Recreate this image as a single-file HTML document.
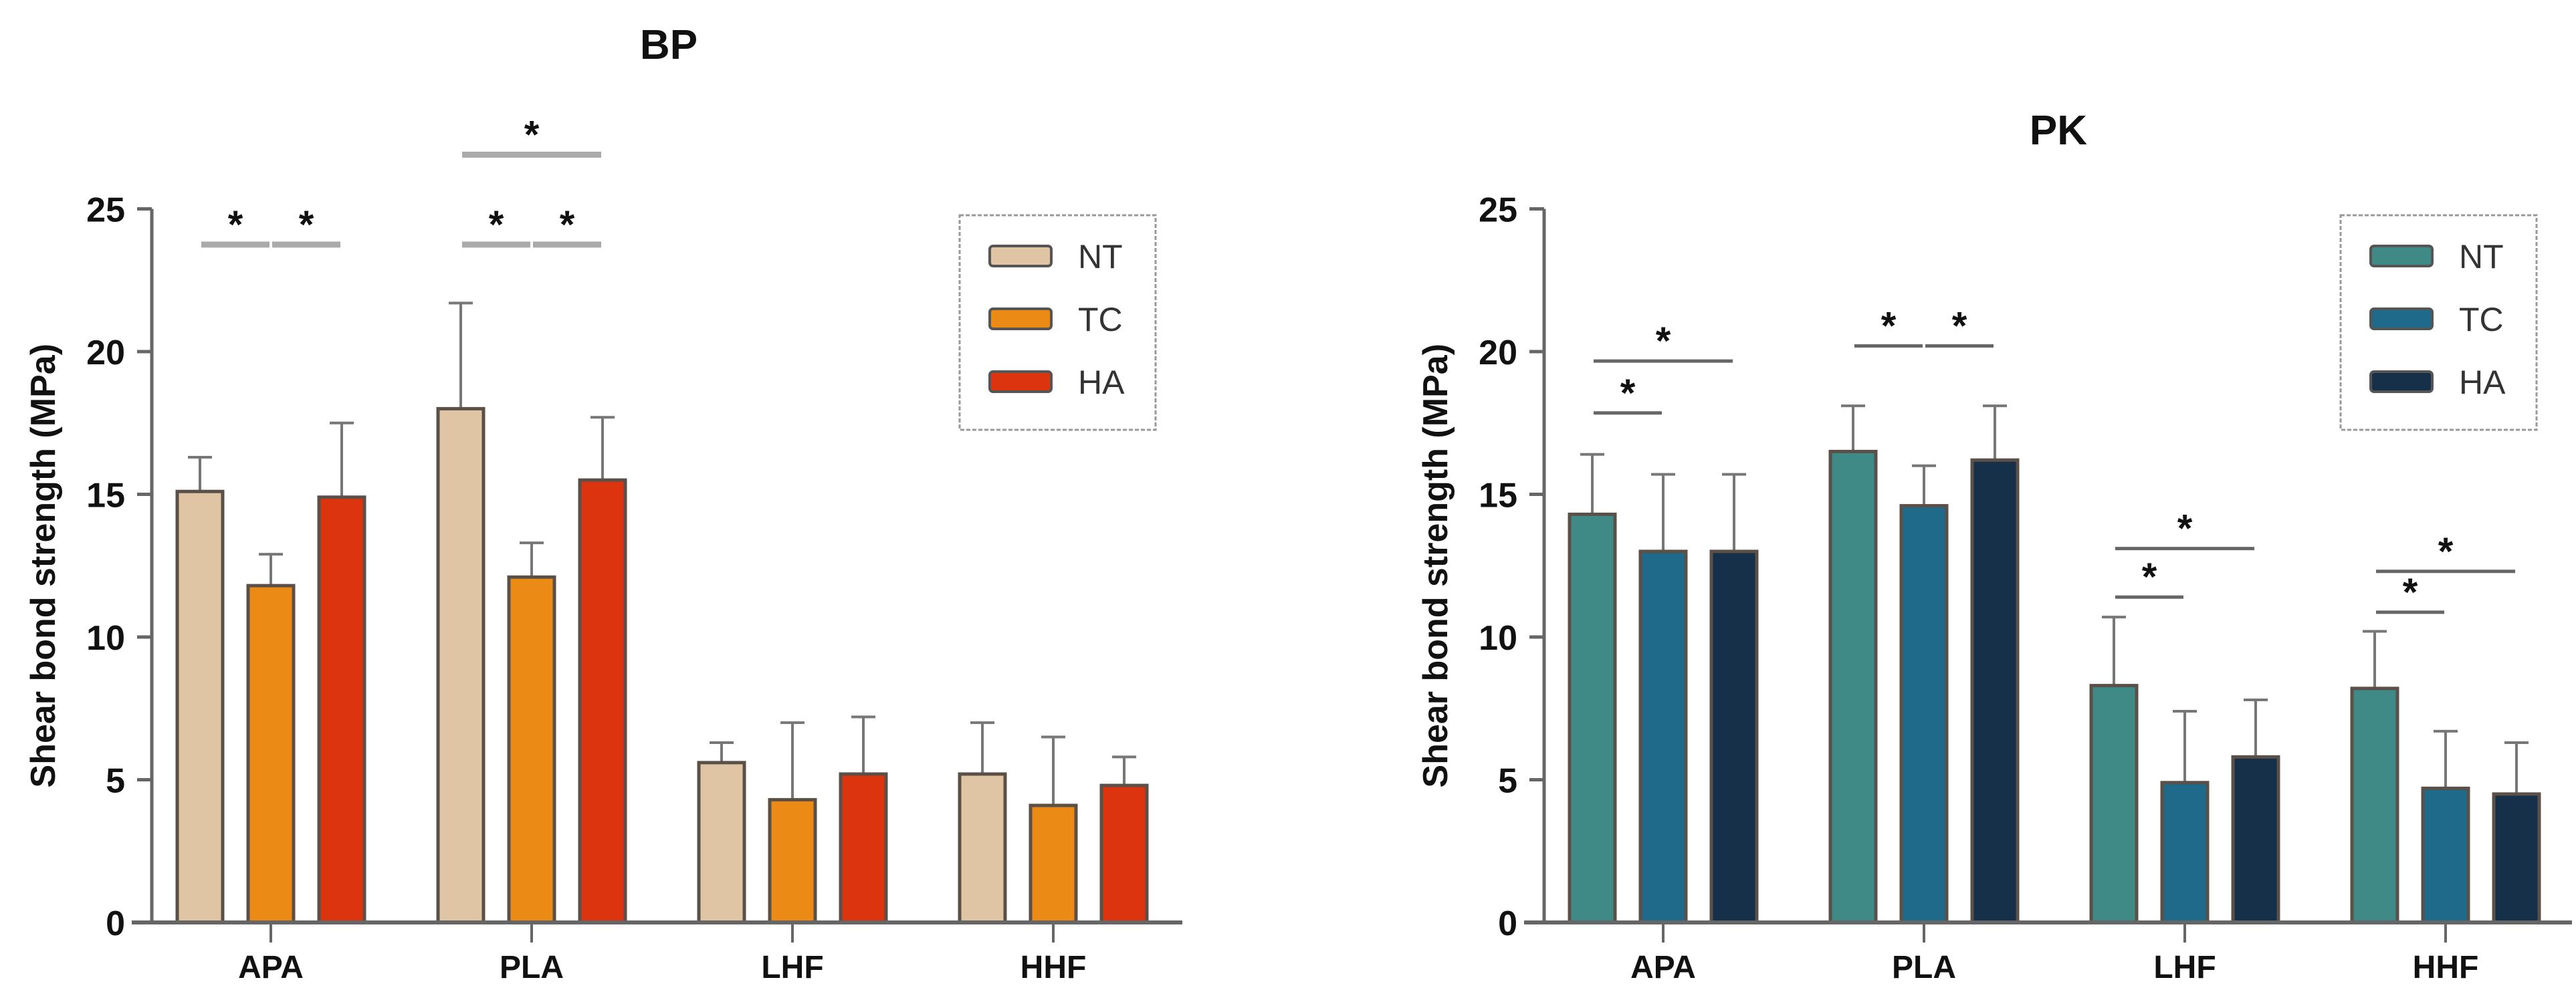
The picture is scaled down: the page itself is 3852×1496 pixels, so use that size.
<!DOCTYPE html>
<html><head><meta charset="utf-8">
<style>
html,body{margin:0;padding:0;background:#fff;}
svg{display:block;font-family:"Liberation Sans",Arial,sans-serif;}
</style></head>
<body>
<svg id="fig" width="3852" height="1496" viewBox="0 0 3852 1496" xmlns="http://www.w3.org/2000/svg">
<rect x="0" y="0" width="3852" height="1496" fill="#ffffff"/>
</svg>
<script>
// ---- data ----
const categories = ["APA","PLA","LHF","HHF"];
const seriesNames = ["NT","TC","HA"];
const yTicks = [0,5,10,15,20,25];
// BP
const bpNT = [15.1,18.0,5.6,5.2];
const bpTC = [11.8,12.1,4.3,4.1];
const bpHA = [14.9,15.5,5.2,4.8];
const bpErrNT = [1.2,3.7,0.7,1.8];
const bpErrTC = [1.1,1.2,2.7,2.4];
const bpErrHA = [2.6,2.2,2.0,1.0];
// PK
const pkNT = [14.3,16.5,8.3,8.2];
const pkTC = [13.0,14.6,4.9,4.7];
const pkHA = [13.0,16.2,5.8,4.5];
const pkErrNT = [2.1,1.6,2.4,2.0];
const pkErrTC = [2.7,1.4,2.5,2.0];
const pkErrHA = [2.7,1.9,2.0,1.8];
// significance brackets: [group, fromSeries, toSeries, yValue]
const bpSig = [[0,0,1,23.75],[0,1,2,23.75],[1,0,1,23.75],[1,1,2,23.75],[1,0,2,26.9]];
const pkSig = [[0,0,1,17.85],[0,0,2,19.67],[1,0,1,20.2],[1,1,2,20.2],[2,0,1,11.4],[2,0,2,13.1],[3,0,1,10.87],[3,0,2,12.3]];

const NS="http://www.w3.org/2000/svg";
const svg=document.getElementById('fig');
function mk(tag,attrs,parent){const e=document.createElementNS(NS,tag);for(const k in attrs)e.setAttribute(k,attrs[k]);(parent||svg).appendChild(e);return e;}

function drawChart(cfg){
  const g=mk('g',{});
  
  
  const y0=1380, unit=42.7;
  const Y=v=>y0-v*unit;
  const X=(gi,si)=>cfg.axisX+178+390*gi+(si-1)*106;
  const bw=68;
  const t=mk('text',{x:cfg.titleX,y:cfg.titleY,'font-size':62,'font-weight':'bold','text-anchor':'middle',fill:'#111'},g);
  t.textContent=cfg.name;
  
  
  const yt=mk('text',{x:0,y:0,'font-size':52,'font-weight':'bold','text-anchor':'middle',fill:'#111',transform:`translate(${cfg.axisX-145},${Y(12.5)}) rotate(-90)`},g);
  yt.textContent='Shear bond strength (MPa)';
  
  
  const vals=[cfg.nt,cfg.tc,cfg.ha], errs=[cfg.ent,cfg.etc,cfg.eha];
  for(let gi=0;gi<categories.length;gi++){
    for(let si=0;si<3;si++){
      const cx=X(gi,si), v=vals[si][gi], e=errs[si][gi];
      const el=mk('line',{x1:cx,x2:cx,y1:Y(v),y2:Y(v+e),stroke:'#777','stroke-width':4},g);
      
      
      const cap=mk('line',{x1:cx-18,x2:cx+18,y1:Y(v+e),y2:Y(v+e),stroke:'#777','stroke-width':4},g);
      
      
      const r=mk('rect',{x:cx-bw/2,y:Y(v),width:bw,height:v*unit,fill:cfg.colors[si],stroke:'#5a5048','stroke-width':5},g);
      
      
    }
  }
  const ya=mk('line',{x1:cfg.axisX,x2:cfg.axisX,y1:Y(25),y2:y0,stroke:'#666','stroke-width':5},g);
  
  
  const xa=mk('line',{x1:cfg.axisX-30,x2:cfg.axisEnd,y1:y0,y2:y0,stroke:'#666','stroke-width':6},g);
  
  
  yTicks.forEach(v=>{
    const tk=mk('line',{x1:cfg.axisX-22,x2:cfg.axisX,y1:Y(v),y2:Y(v),stroke:'#666','stroke-width':5},g);
    
    
    const tl=mk('text',{x:cfg.axisX-40,y:Y(v)+19,'font-size':52,'font-weight':'bold','text-anchor':'end',fill:'#111'},g);
    tl.textContent=String(v);
    
    
  });
  categories.forEach((c,gi)=>{
    const cx=X(gi,1);
    const tk=mk('line',{x1:cx,x2:cx,y1:y0,y2:y0+30,stroke:'#666','stroke-width':4},g);
    
    
    const tl=mk('text',{x:cx,y:1463,'font-size':48,'font-weight':'bold','text-anchor':'middle',fill:'#111'},g);
    tl.textContent=c;
    
    
  });
  cfg.sig.forEach(s=>{
    const xa1=X(s[0],s[1])+2, xa2=X(s[0],s[2])-2, yy=Y(s[3]);
    const l=mk('line',{x1:xa1,x2:xa2,y1:yy,y2:yy,stroke:cfg.sigColor,'stroke-width':cfg.sigW},g);
    
    
    const st=mk('text',{x:(xa1+xa2)/2,y:yy-10,'font-size':58,'font-weight':'bold','text-anchor':'middle',fill:'#111'},g);
    st.textContent='*';
    
    
  });
  const lx=cfg.legendX;
  const lb=mk('rect',{x:lx,y:322,width:293,height:321,fill:'none',stroke:'#999','stroke-width':3,'stroke-dasharray':'6 3'},g);
  
  
  seriesNames.forEach((n,si)=>{
    const cy=383+si*94;
    const sw=mk('rect',{x:lx+45,y:cy-15,width:92,height:30,rx:5,fill:cfg.colors[si],stroke:'#555','stroke-width':4},g);
    
    
    const tx=mk('text',{x:lx+177,y:cy+18,'font-size':50,fill:'#333'},g);
    tx.textContent=n;
    
    
  });
}
drawChart({name:'BP',axisX:227,axisEnd:1768,legendX:1435,titleX:1000,titleY:88,nt:bpNT,tc:bpTC,ha:bpHA,ent:bpErrNT,etc:bpErrTC,eha:bpErrHA,
  colors:['#dfc5a3','#eb8a15','#dc340e'],sig:bpSig,sigColor:'#aaaaaa',sigW:9});
drawChart({name:'PK',axisX:2309,axisEnd:3846,legendX:3500,titleX:3078,titleY:216,nt:pkNT,tc:pkTC,ha:pkHA,ent:pkErrNT,etc:pkErrTC,eha:pkErrHA,
  colors:['#3f8a86','#1f6a8b','#17304a'],sig:pkSig,sigColor:'#666666',sigW:5});
</script>
</body></html>
